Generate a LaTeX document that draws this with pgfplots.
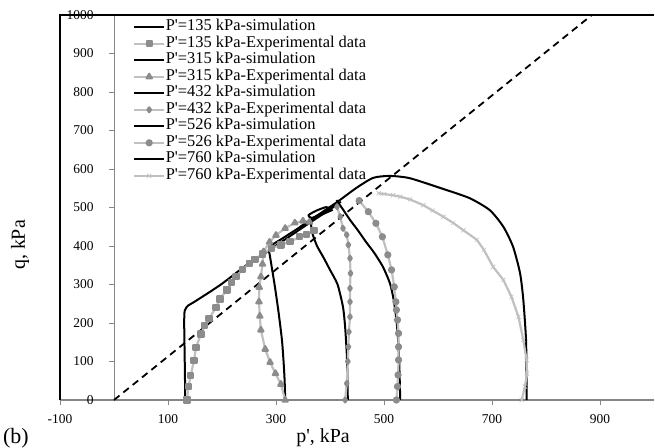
\documentclass[border=0pt]{standalone}
\usepackage{pgfplots}
\pgfplotsset{compat=1.18}
\usepackage{fontspec}
\setmainfont{Liberation Serif}
\definecolor{expline}{RGB}{192,192,192}
\definecolor{expmark}{RGB}{140,140,140}
\definecolor{axgray}{RGB}{134,134,134}
\newcommand{\q}{\textquotesingle}
\begin{document}
\begin{tikzpicture}
\useasboundingbox (0,0) rectangle (655bp,448bp);
\begin{axis}[
  at={(60bp,48bp)}, anchor=south west,
  scale only axis, width=594bp, height=385bp,
  xmin=-100, xmax=1000, ymin=0, ymax=1000,
  clip=false,
  axis x line=bottom, axis y line=center,
  hide obscured x ticks=false, hide obscured y ticks=false,
  x axis line style={-, draw=axgray, line width=2.5bp},
  y axis line style={-, draw=axgray, line width=0.8bp},
  xtick={-100,100,...,900}, ytick={0,100,...,1000},
  tick align=outside, major tick length=5bp,
  tick style={axgray, line width=0.6bp},
  ticklabel style={font=\fontsize{13.5}{13.5}\selectfont},
  xticklabel style={yshift=-6bp},
  yticklabel style={xshift=-12bp},
  /pgf/number format/assume math mode=true,
  /pgf/number format/1000 sep={},
  xlabel={p\q, kPa}, ylabel={q, kPa},
  label style={font=\fontsize{20}{20}\selectfont},
  xlabel style={at={(rel axis cs:0.443,-0.0987)}, anchor=center},
  ylabel style={at={(rel axis cs:-0.0673,0.4026)}, anchor=center, rotate=90},
  legend cell align=left,
  legend style={at={(axis cs:35,990)}, anchor=north west, draw=none, fill=none,
    inner sep=0pt, font=\fontsize{16.5}{16.5}\selectfont, row sep=0pt,
    nodes={inner sep=0.5bp, text height=11bp, text depth=4.5bp}},
  legend image code/.code={\draw[mark repeat=2,mark phase=2,#1] plot coordinates {(0bp,0bp)(15bp,0bp)(30bp,0bp)};},
  sim/.style={black, line width=2bp, no marks, line join=round, smooth, tension=0.4},
  exp/.style={expline, line width=2.2bp, line join=round, mark options={fill=expmark, draw=expmark, solid}},
]
% frame
\addplot[forget plot, black, line width=2bp] coordinates {(-100,0) (-100,1000) (1000,1000)};
% critical state line
\addplot[forget plot, black, line width=1.8bp, dash pattern=on 7bp off 5bp] coordinates {(0,0) (885,1000)};

% 135
\addplot[sim] coordinates {(132,0)(131,100)(130,200)(131,232)(137,245)(150,256)(197,299)(246,351)(283,385)(320,420)(360,458)(400,495)(420,515)};
\addlegendentry{P\q=135 kPa-simulation}
\addplot[exp, mark=square*, mark size=2.6bp] coordinates {(135,0)(138,35)(142,63)(148,102)(152,137)(161,171)(168,193)(176,212)(189,240)(196,262)(209,286)(218,305)(226,320)(238,339)(251,355)(261,365)(275,379)(292,394)(309,403)(326,411)(344,424)(357,430)(370,440)};
\addlegendentry{P\q=135 kPa-Experimental data}
% 315
\addplot[sim] coordinates {(317,0)(316,50)(314,100)(311,156)(305,225)(298,294)(289,372)(287,390)(293,403)(310,418)(340,445)(365,468)(385,485)(400,495)(393,501)(375,492)(360,480)(366,473)(385,482)(405,494)};
\addlegendentry{P\q=315 kPa-simulation}
\addplot[exp, mark=triangle*, mark size=3bp] coordinates {(317,0)(309,41)(299,69)(289,98)(280,132)(272,182)(270,218)(268.5,255)(269,293)(272,320)(275,353)(277,385)(288,410)(300,428)(317,446)(335,460)(350,465)(362,462)};
\addlegendentry{P\q=315 kPa-Experimental data}
% 432
\addplot[sim] coordinates {(433,0)(432,80)(431,122)(428,190)(424,242)(414,300)(400,338)(388,370)(376,400)(368,430)(365,455)(367,470)(380,482)(400,497)(415,512)};
\addlegendentry{P\q=432 kPa-simulation}
\addplot[exp, mark=diamond*, mark size=2.4bp] coordinates {(428,0)(431,43)(433,100)(434,138)(435,177)(437,216)(437,255)(437,290)(438,329)(437,368)(434,403)(431,429)(424,446)(419,476)(413,502)};
\addlegendentry{P\q=432 kPa-Experimental data}
% 526
\addplot[sim] coordinates {(530,0)(529,60)(528,104)(526,160)(523,208)(518,260)(511,303)(498,346)(482,382)(467,410)(452,440)(437,468)(424,495)(412,519)};
\addlegendentry{P\q=526 kPa-simulation}
\addplot[exp, mark=*, mark size=2.5bp] coordinates {(523,0)(525,35)(526,65)(527,104)(527,138)(527,173)(525,208)(523,234)(522,255)(519,294)(514,338)(507,377)(497,424)(485,459)(471,489)(454,518)};
\addlegendentry{P\q=526 kPa-Experimental data}
% 760
\addplot[sim] coordinates {(764,0)(764,50)(763,156)(758,260)(752,329)(739,398)(721,450)(696,493)(659,524)(610,548)(548,576)(511,582)(480,577)(449,551)(413,514)(375,478)(345,450)};
\addlegendentry{P\q=760 kPa-simulation}
\addplot[exp, mark=x, mark size=3bp, mark options={draw=expline, line width=0.6bp}] coordinates {(755,0)(761,35)(765,69)(764,104)(758,156)(749,216)(736,268)(721,312)(702,346)(685,390)(672,416)(647,441)(628,460)(610,476)(590,492)(573,506)(548,521)(530,528)(517,532)(500,535)(490,537)};
\addlegendentry{P\q=760 kPa-Experimental data}
\end{axis}
\node[anchor=base west, inner sep=0pt, font=\fontsize{22}{22}\selectfont] at (3bp,5bp) {(b)};
\end{tikzpicture}
\end{document}
